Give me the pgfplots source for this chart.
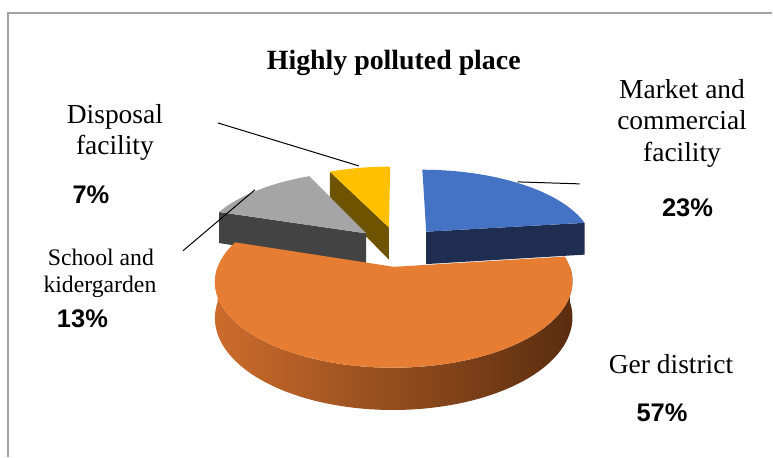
\documentclass[border=0pt]{standalone}
\usepackage{fontspec}
\setmainfont{Liberation Serif}
\newfontfamily\arialfont{Liberation Sans}
\usepackage{pgfplots}
\pgfplotsset{compat=1.18}

% Colours of the slices
\definecolor{mktTop}{HTML}{4472C4}
\definecolor{mktSide}{HTML}{1F2D50}
\definecolor{gerTop}{HTML}{E77D33}
\definecolor{gerWallL}{HTML}{CC6C2C}
\definecolor{gerWallR}{HTML}{5A2D0F}
\definecolor{schTop}{HTML}{A5A5A5}
\definecolor{schSide}{HTML}{434343}
\definecolor{dspTop}{HTML}{FFC000}
\definecolor{dspSide}{HTML}{6E5300}
\definecolor{frameGray}{HTML}{A3A3A3}

% Geometry of the tilted pie (pixel units of the plot area)
\def\Cx{398.4}  % centre x
\def\Cy{246.3}  % centre y
\def\Rr{168.7}  % horizontal radius
\def\Ss{76.6}   % depth foreshortening
\def\Kk{0.165}  % perspective factor
\def\Hh{33.5}   % thickness
\def\Ee{0.26}   % explosion distance (fraction of radius)

% pieX(r, angle, mid) and pieY(r, angle, mid, level):
% r = 0 apex / 1 rim, angle clockwise from 12 o'clock,
% mid = bisector of the slice, level = 0 top / 1 bottom
\pgfmathdeclarefunction{pieX}{3}{%
  \begingroup
  \pgfmathparse{\Cx + \Rr*(\Ee*sin(#3)+#1*sin(#2))/(1+\Kk*(\Ee*cos(#3)+#1*cos(#2)))}%
  \pgfmathsmuggle\pgfmathresult
  \endgroup}
\pgfmathdeclarefunction{pieY}{4}{%
  \begingroup
  \pgfmathparse{\Cy + (-\Ss*(\Ee*cos(#3)+#1*cos(#2)) + #4*\Hh)/(1+\Kk*(\Ee*cos(#3)+#1*cos(#2)))}%
  \pgfmathsmuggle\pgfmathresult
  \endgroup}

% #1 start (%), #2 end (%), #3 fill options
\newcommand{\topface}[3]{%
  \fill[#3] ({pieX(0,0,1.8*(#1+#2))},{pieY(0,0,1.8*(#1+#2),0)})
    -- plot[domain=3.6*#1:3.6*#2, samples=60, variable=\t]
       ({pieX(1,\t,1.8*(#1+#2))},{pieY(1,\t,1.8*(#1+#2),0)}) -- cycle;}
% radial cut face at the given edge (#4 = percentage of that edge)
\newcommand{\cutface}[4]{%
  \fill[#3] ({pieX(0,0,1.8*(#1+#2))},{pieY(0,0,1.8*(#1+#2),0)})
    -- ({pieX(1,3.6*#4,1.8*(#1+#2))},{pieY(1,3.6*#4,1.8*(#1+#2),0)})
    -- ({pieX(1,3.6*#4,1.8*(#1+#2))},{pieY(1,3.6*#4,1.8*(#1+#2),1)})
    -- ({pieX(0,0,1.8*(#1+#2))},{pieY(0,0,1.8*(#1+#2),1)}) -- cycle;}
% outer wall between two angles #4 and #5 (degrees)
\newcommand{\wallface}[5]{%
  \shade[#3] plot[domain=#4:#5, samples=80, variable=\t]
       ({pieX(1,\t,1.8*(#1+#2))},{pieY(1,\t,1.8*(#1+#2),0)})
    -- plot[domain=#5:#4, samples=80, variable=\t]
       ({pieX(1,\t,1.8*(#1+#2))},{pieY(1,\t,1.8*(#1+#2),1)}) -- cycle;}

\begin{document}
\begin{tikzpicture}
\begin{axis}[
  width=579.75pt, height=342.75pt, scale only axis,
  xmin=0, xmax=773, ymin=0, ymax=457, y dir=reverse,
  hide axis, clip=false]

% page area and frame
\path (0,0) rectangle (773,457);
\draw[frameGray, line width=0.8pt] (8,457) -- (8,13) -- (773,13);

% shares (%): Market 23, Ger district 57, School 13, Disposal 7
% Disposal facility: 93 -- 100
\cutface{93}{100}{dspSide}{93}
\topface{93}{100}{dspTop}
% School and kidergarden: 80 -- 93
\cutface{80}{93}{schSide}{80}
\topface{80}{93}{schTop}
% Market and commercial facility: 0 -- 23
\cutface{0}{23}{mktSide}{23}
\topface{0}{23}{mktTop}
% Ger district: 23 -- 80
\wallface{23}{80}{left color=gerWallL, right color=gerWallR}{90}{270}
\topface{23}{80}{gerTop}

% leader lines
\draw[black, line width=0.75pt] (218,123) -- (359,166);
\draw[black, line width=0.75pt] (183,251) -- (255,190);
\draw[black, line width=0.75pt] (518,182) -- (580,184);

% title
\node[anchor=base, inner sep=0, font=\fontsize{20.9}{25}\selectfont\bfseries] at (394,70) {Highly polluted place};

% category labels
\begin{scope}[every node/.style={anchor=base, inner sep=0, font=\fontsize{20.6}{24}\selectfont}]
\node at (115,124) {Disposal};
\node at (115,155) {facility};
\node at (682.5,99) {Market and};
\node at (682.5,130) {commercial};
\node at (682.5,162) {facility};
\node at (671.5,374) {Ger district};
\end{scope}
\node[anchor=base, inner sep=0, font=\fontsize{17.8}{21}\selectfont] at (101,266) {School and};
\node[anchor=base, inner sep=0, font=\fontsize{17.8}{21}\selectfont] at (100,293) {kidergarden};

% percentages
\begin{scope}[every node/.style={inner sep=0, font=\fontsize{19.1}{22}\selectfont\arialfont\bfseries}]
\node at (91,194.5) {7\%};
\node at (688,208) {23\%};
\node at (82.5,318.7) {13\%};
\node at (662.5,413) {57\%};
\end{scope}
\end{axis}
\end{tikzpicture}
\end{document}
